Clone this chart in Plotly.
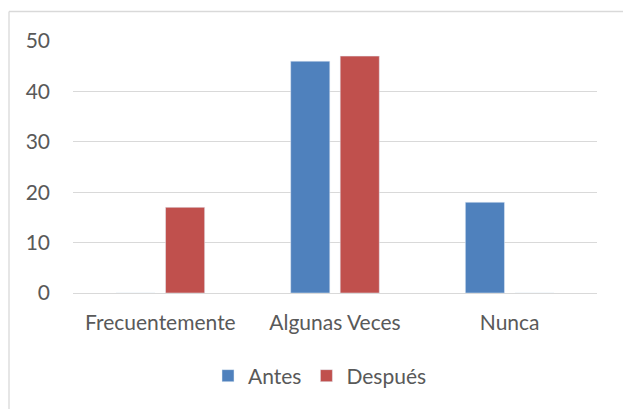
import plotly.graph_objects as go

categories = ["Frecuentemente", "Algunas Veces", "Nunca"]
antes = [0, 46, 18]
despues = [17, 47, 0]
y_ticks = [0, 10, 20, 30, 40, 50]

W, H = 623, 409
ml, mt = 73, 41
pw, ph = 524, 252
mr, mb = W - ml - pw, H - mt - ph

fig = go.Figure()
fig.add_trace(go.Bar(name="Antes", x=categories, y=antes, marker_color="#4F81BD"))
fig.add_trace(go.Bar(name="Después", x=categories, y=despues, marker_color="#C0504D"))

font = dict(family="Lato, 'Open Sans', sans-serif", size=21, color="#595959")

def px_x(x):
    return (x - ml) / pw

def px_y(y):
    return (mt + ph - y) / ph

fig.update_layout(
    width=W, height=H,
    margin=dict(l=ml, r=mr, t=mt, b=mb),
    paper_bgcolor="white", plot_bgcolor="white",
    barmode="group", bargap=0.433, bargroupgap=0.21,
    font=font,
    showlegend=True,
    legend=dict(orientation="h", x=px_x(320), xanchor="center",
                y=px_y(376), yanchor="middle",
                font=font, itemwidth=30, tracegroupgap=0),
    xaxis=dict(showgrid=False, showline=False, ticks="", ticklabelstandoff=15,
               tickfont=font),
    yaxis=dict(range=[0, 50], tickvals=y_ticks, showgrid=True, gridcolor="#D9D9D9",
               gridwidth=1.3, zeroline=True, zerolinecolor="#D9D9D9", zerolinewidth=1.3,
               showline=False, ticks="", ticklabelstandoff=22, tickfont=font),
    shapes=[
        dict(type="line", xref="paper", yref="paper",
             x0=px_x(9), x1=px_x(W), y0=px_y(11.5), y1=px_y(11.5),
             line=dict(color="#D9D9D9", width=1.3)),
        dict(type="line", xref="paper", yref="paper",
             x0=px_x(9), x1=px_x(9), y0=px_y(11.5), y1=px_y(H),
             line=dict(color="#D9D9D9", width=1.3)),
    ],
)

fig.write_html("out.html",
               config={"displayModeBar": False},
               post_script="document.body.style.margin='0';"
                           "document.body.style.overflow='hidden';")
